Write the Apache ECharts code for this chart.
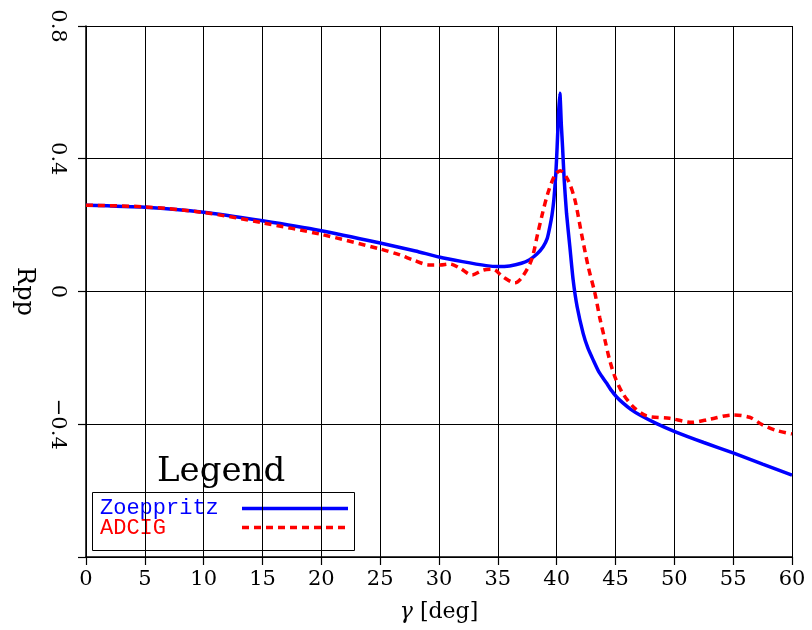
<!DOCTYPE html>
<html>
<head>
<meta charset="utf-8">
<style>
html,body{margin:0;padding:0;background:#fff;}
#chart{width:812px;height:630px;}
</style>
<script src="https://cdn.jsdelivr.net/npm/echarts@6/dist/echarts.min.js"></script>
</head>
<body>
<div id="chart"></div>
<script>
const zoeppritzAngle = [0, 5, 10, 15, 20, 25, 28, 30, 32, 34, 35, 36, 37, 37.7, 38.3, 38.85, 39.2, 39.42, 39.6, 39.76, 39.93, 40.04, 40.16, 40.27, 40.4, 40.5, 40.64, 40.84, 41.12, 41.4, 41.74, 42.25, 42.65, 43.1, 43.6, 44.24, 44.65, 45.08, 45.6, 46.3, 47.07, 48.5, 50.04, 52.5, 55.05, 57.5, 60];
const zoeppritzRpp = [0.26, 0.254, 0.239, 0.213, 0.183, 0.146, 0.122, 0.104, 0.09, 0.078, 0.075, 0.077, 0.085, 0.096, 0.112, 0.135, 0.16, 0.195, 0.23, 0.276, 0.356, 0.436, 0.537, 0.597, 0.5, 0.436, 0.336, 0.235, 0.135, 0.035, -0.046, -0.126, -0.17, -0.206, -0.243, -0.276, -0.298, -0.317, -0.335, -0.355, -0.372, -0.398, -0.422, -0.455, -0.487, -0.52, -0.553];

const adcigAngle = [0, 5, 10, 15, 20, 25, 26.7, 27.8, 29.2, 30.1, 30.9, 31.8, 32.8, 33.8, 34.6, 35.4, 36.45, 37.1, 37.86, 38.4, 38.8, 39.25, 39.85, 40.3, 40.96, 41.55, 42.1, 42.68, 43.25, 43.67, 44.1, 44.5, 44.95, 45.6, 46.5, 47.64, 49.6, 51.46, 53.0, 54.97, 56.4, 57.5, 58.7, 60];
const adcigRpp = [0.26, 0.255, 0.238, 0.207, 0.172, 0.128, 0.11, 0.095, 0.08, 0.08, 0.083, 0.07, 0.05, 0.065, 0.067, 0.045, 0.026, 0.045, 0.095, 0.176, 0.236, 0.296, 0.351, 0.364, 0.336, 0.276, 0.176, 0.075, -0.005, -0.08, -0.146, -0.206, -0.257, -0.306, -0.347, -0.375, -0.382, -0.394, -0.385, -0.372, -0.379, -0.402, -0.419, -0.429];

const seriesNames = ['Zoeppritz', 'ADCIG'];
const legendTitle = 'Legend';
const xAxisTitle = '[deg]';
const xAxisSymbol = 'γ';
const yAxisTitle = 'Rpp';

const zip = (xs, ys) => xs.map((x, i) => [x, ys[i]]);

const chart = echarts.init(document.getElementById('chart'), null, {renderer: 'canvas'});
const serif = 'DejaVu Serif';

const option = {
  animation: false,
  backgroundColor: '#ffffff',
  grid: {left: 86, right: 20, top: 26, bottom: 73, containLabel: false},
  xAxis: {
    type: 'value', min: 0, max: 60, interval: 5,
    axisLine: {show: true, onZero: false, lineStyle: {color: '#000', width: 1.5}},
    axisTick: {show: true, inside: false, length: 8, lineStyle: {color: '#000', width: 1.2}},
    axisLabel: {color: '#000', fontFamily: serif, fontSize: 21, margin: 12},
    splitLine: {show: true, lineStyle: {color: '#000', width: 1}},
    name: '{g|' + xAxisSymbol + '} ' + xAxisTitle,
    nameLocation: 'middle', nameGap: 44,
    nameTextStyle: {color: '#000', fontFamily: serif, fontSize: 22,
      rich: {g: {fontFamily: serif, fontStyle: 'italic', fontSize: 22, color: '#000'}}}
  },
  yAxis: {
    type: 'value', min: -0.8, max: 0.8, interval: 0.4,
    axisLine: {show: true, onZero: false, lineStyle: {color: '#000', width: 1.5}},
    axisTick: {show: true, inside: false, length: 8, lineStyle: {color: '#000', width: 1.2}},
    axisLabel: {color: '#000', fontFamily: serif, fontSize: 21, margin: 18, rotate: -90,
      formatter: function (v) {
        const r = Math.round(v * 10) / 10;
        if (r === -0.8) return '';
        if (r < 0) return '\u2212' + Math.abs(r);
        return String(r);
      }},
    splitLine: {show: true, lineStyle: {color: '#000', width: 1}},
    name: yAxisTitle, nameLocation: 'middle', nameGap: 50, nameRotate: -90,
    nameTextStyle: {color: '#000', fontFamily: serif, fontSize: 24}
  },
  series: [
    {
      name: seriesNames[0], type: 'line', data: zip(zoeppritzAngle, zoeppritzRpp),
      showSymbol: false, smooth: 0.2,
      lineStyle: {color: '#0000ff', width: 3.5}, z: 3
    },
    {
      name: seriesNames[1], type: 'line', data: zip(adcigAngle, adcigRpp),
      showSymbol: false, smooth: 0.3,
      lineStyle: {color: '#ff0000', width: 3.5, type: [7, 5]}, z: 4
    }
  ],
  graphic: [
    {type: 'text', left: 157, top: 455, style: {text: legendTitle, font: '34px "DejaVu Serif"', fill: '#000'}},
    {type: 'rect', shape: {x: 92.5, y: 492.5, width: 262, height: 58}, style: {fill: 'none', stroke: '#000', lineWidth: 1}},
    {type: 'text', left: 100, top: 497, style: {text: seriesNames[0], font: '22px "Liberation Mono"', fill: '#0000ff'}},
    {type: 'text', left: 100, top: 517, style: {text: seriesNames[1], font: '22px "Liberation Mono"', fill: '#ff0000'}},
    {type: 'line', shape: {x1: 242, y1: 508.5, x2: 348, y2: 508.5}, style: {stroke: '#0000ff', lineWidth: 3.5}},
    {type: 'line', shape: {x1: 242, y1: 527.5, x2: 348, y2: 527.5}, style: {stroke: '#ff0000', lineWidth: 3.5, lineDash: [7, 5]}}
  ]
};
chart.setOption(option);
</script>
</body>
</html>
